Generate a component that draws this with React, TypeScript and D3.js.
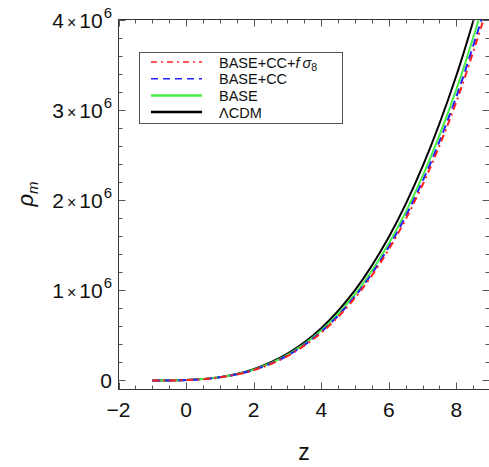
import React from "react";
import * as d3 from "d3";

const zValues = [-1, 0, 1, 2, 3, 4, 5, 6, 7, 8, 9];
const lcdm = [0, 4636, 37090, 125170, 296700, 579500, 1001400, 1590100, 2373600, 3379600, 4636000];
const base = [0, 4424, 35390, 119450, 283140, 553000, 955600, 1517400, 2265100, 3225100, 4424000];
const baseCC = [0, 4315, 34520, 116510, 276160, 539400, 932000, 1480000, 2209300, 3145600, 4315000];
const baseCCf = [0, 4237, 33900, 114400, 271170, 529600, 915200, 1453300, 2169300, 3088800, 4237000];

const xTicks = [-2, 0, 2, 4, 6, 8];
const yTicks = [0, 1, 2, 3, 4];

const series = [
  { name: "BASE+CC+fσ8", values: baseCCf, color: "#ff2020", dash: "7,4,2,4" },
  { name: "BASE+CC", values: baseCC, color: "#2020ff", dash: "8,5" },
  { name: "BASE", values: base, color: "#44ee44", dash: "" },
  { name: "ΛCDM", values: lcdm, color: "#000000", dash: "" },
];

export default function App() {
  const W = 489, H = 467;
  const left = 118.5, right = 489.5, top = 19.5, bottom = 389.5;
  const x = d3.scaleLinear().domain([-2, 8.98]).range([left, right]);
  const y = d3.scaleLinear().domain([-0.1e6, 4e6]).range([bottom, top]);
  const line = d3
    .line<[number, number]>()
    .x((d) => x(d[0]))
    .y((d) => y(d[1]))
    .curve(d3.curveCatmullRom.alpha(0.5));

  const xMinor = d3.range(-2, 9.01, 0.5);
  const yMinor = d3.range(0, 4.01e6, 2e5);
  const font = "'Liberation Sans', Arial, sans-serif";

  const drawOrder = [series[3], series[2], series[1], series[0]];

  return (
    <svg width={W} height={H} style={{ position: "absolute", left: 0, top: 0 }} fontFamily={font}>
      <defs>
        <clipPath id="plot">
          <rect x={left} y={top} width={right - left} height={bottom - top} />
        </clipPath>
      </defs>
      <rect x={0} y={0} width={W} height={H} fill="white" />
      {/* curves */}
      <g clipPath="url(#plot)">
        {drawOrder.map((s) => (
          <path
            key={s.name}
            d={line(zValues.map((z, i) => [z, s.values[i]] as [number, number])) || ""}
            fill="none"
            stroke={s.color}
            strokeWidth={2}
            strokeDasharray={s.dash}
          />
        ))}
      </g>
      {/* frame */}
      <rect x={left} y={top} width={right - left} height={bottom - top} fill="none" stroke="#333" strokeWidth={1} />
      {/* x ticks */}
      {xMinor.map((t) => {
        const major = Math.abs(t / 2 - Math.round(t / 2)) < 1e-6;
        const len = major ? 7 : 4;
        const xx = Math.round(x(t)) + 0.5;
        return (
          <g key={"x" + t}>
            <line x1={xx} x2={xx} y1={bottom} y2={bottom - len} stroke="#555" />
            <line x1={xx} x2={xx} y1={top} y2={top + len} stroke="#555" />
          </g>
        );
      })}
      {xTicks.map((t) => (
        <text key={"xl" + t} x={x(t)} y={417} textAnchor="middle" fontSize={21} fill="#111">
          {t < 0 ? "−" + Math.abs(t) : t}
        </text>
      ))}
      {/* y ticks */}
      {yMinor.map((t) => {
        const major = Math.abs(t / 1e6 - Math.round(t / 1e6)) < 1e-6;
        const len = major ? 7 : 4;
        const yy = Math.round(y(t)) + 0.5;
        return (
          <g key={"y" + t}>
            <line x1={left} x2={left + len} y1={yy} y2={yy} stroke="#555" />
            <line x1={right} x2={right - len} y1={yy} y2={yy} stroke="#555" />
          </g>
        );
      })}
      {yTicks.map((t) =>
        t === 0 ? (
          <text key={"yl" + t} x={112} y={y(0) + 8} textAnchor="end" fontSize={21} fill="#111">
            0
          </text>
        ) : (
          <text key={"yl" + t} x={112} y={y(t * 1e6) + 8} textAnchor="end" fontSize={21} fill="#111">
            {t}
            <tspan fontSize={16} dx={3}>×</tspan>
            <tspan dx={3}>10</tspan>
            <tspan fontSize={15} dy={-10} dx={1}>6</tspan>
          </text>
        )
      )}
      {/* axis labels */}
      <text x={304} y={460} textAnchor="middle" fontSize={23} fill="#111">
        z
      </text>
      <text transform={`translate(33,${194}) rotate(-90)`} textAnchor="middle" fontSize={22} fill="#111">
        <tspan fontStyle="italic">ρ</tspan>
        <tspan fontSize={15} dy={5} fontStyle="italic">m</tspan>
      </text>
      {/* legend */}
      <rect x={139.5} y={52.5} width={203} height={71} fill="white" stroke="#555" strokeWidth={1} />
      {series.map((s, i) => {
        const ly = 62 + i * 16.7;
        return (
          <g key={"lg" + s.name}>
            <line
              x1={151}
              x2={202}
              y1={ly}
              y2={ly}
              stroke={s.color}
              strokeWidth={i < 2 ? 1.6 : 2.5}
              strokeDasharray={i === 0 ? "6,4,2,4" : i === 1 ? "7,5" : ""}
            />
            <text x={219} y={ly + 5.5} fontSize={14.5} fill="#111">
              {i === 0 ? (
                <>
                  BASE+CC+<tspan fontStyle="italic">f</tspan>
                  <tspan dx={3} fontStyle="italic">σ</tspan>
                  <tspan fontSize={10.5} dy={3}>8</tspan>
                </>
              ) : (
                s.name
              )}
            </text>
          </g>
        );
      })}
    </svg>
  );
}
